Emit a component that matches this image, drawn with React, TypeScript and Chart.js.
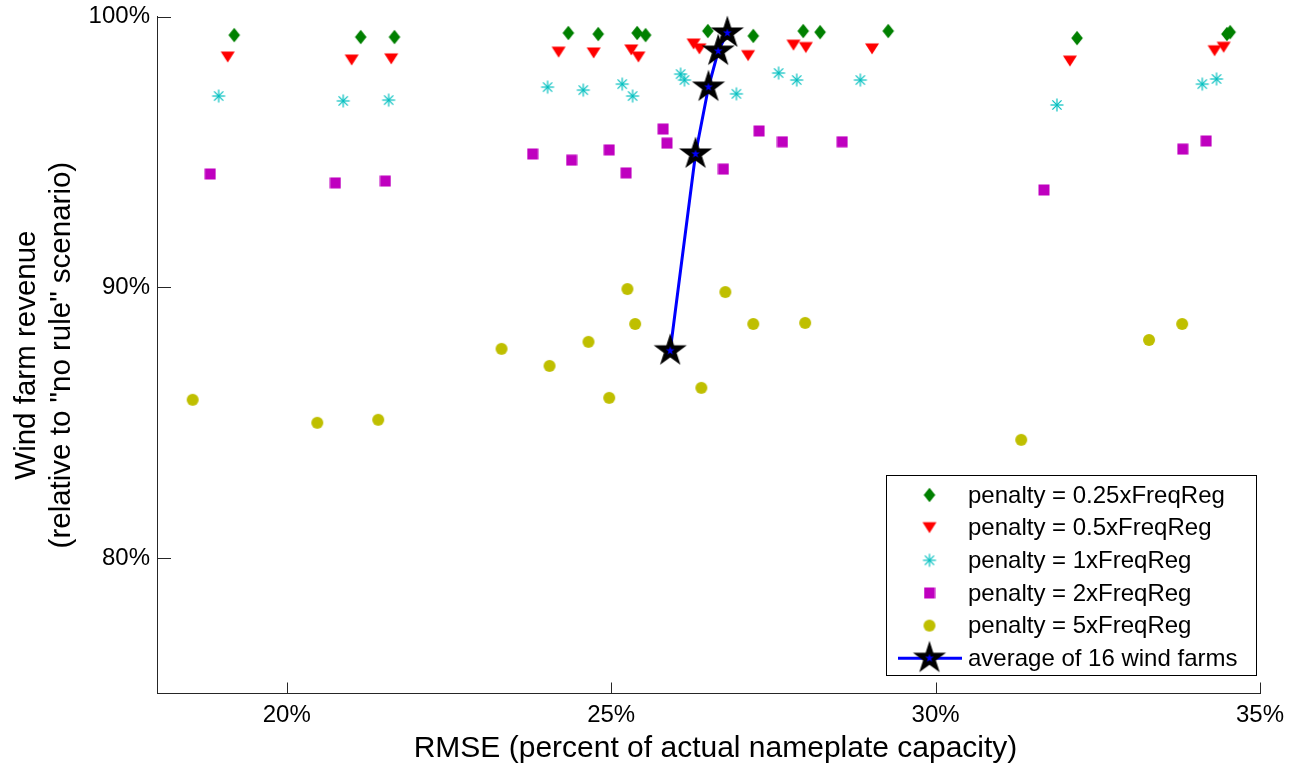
import React, { useEffect, useRef } from "react";
import { Chart, registerables } from "chart.js";

Chart.register(...registerables);

// ---- tick values ----
const xTickValues = [20, 25, 30, 35];
const yTickValues = [80, 90, 100];

// ---- series: RMSE (%) and revenue (%) ----
const rmse025 = [19.19, 21.14, 21.66, 24.34, 24.8, 25.4, 25.53, 26.49, 26.78, 27.19, 27.96, 28.22, 29.27, 32.18, 34.49, 34.54];
const rev025 = [99.32, 99.25, 99.25, 99.4, 99.36, 99.4, 99.32, 99.47, 99.43, 99.29, 99.47, 99.43, 99.47, 99.21, 99.36, 99.43];

const rmse05 = [19.09, 21.0, 21.61, 24.19, 24.73, 25.31, 25.42, 26.27, 26.36, 27.11, 27.81, 28.0, 29.02, 32.07, 34.3, 34.44];
const rev05 = [98.51, 98.4, 98.44, 98.69, 98.66, 98.77, 98.51, 98.99, 98.81, 98.56, 98.95, 98.86, 98.81, 98.36, 98.74, 98.87];

const rmse1 = [18.95, 20.87, 21.57, 24.02, 24.57, 25.17, 25.33, 26.07, 26.13, 26.93, 27.58, 27.86, 28.84, 31.87, 34.11, 34.33];
const rev1 = [97.07, 96.89, 96.92, 97.4, 97.29, 97.51, 97.07, 97.88, 97.66, 97.15, 97.92, 97.66, 97.66, 96.74, 97.51, 97.7];

const rmse2 = [18.82, 20.75, 21.52, 23.79, 24.39, 24.97, 25.23, 25.8, 25.86, 26.73, 27.28, 27.64, 28.56, 31.67, 33.81, 34.17];
const rev2 = [94.19, 93.86, 93.93, 94.93, 94.7, 95.08, 94.23, 95.85, 95.33, 94.37, 95.78, 95.38, 95.38, 93.6, 95.11, 95.41];

const rmse5 = [18.55, 20.47, 21.41, 23.31, 24.05, 24.65, 24.97, 25.25, 25.37, 26.39, 26.76, 27.19, 27.99, 31.32, 33.29, 33.8];
const rev5 = [85.85, 85.0, 85.11, 87.73, 87.1, 87.99, 85.92, 89.94, 88.65, 86.29, 89.83, 88.65, 88.69, 84.37, 88.06, 88.65];

const rmseAvg = [25.91, 26.3, 26.5, 26.65, 26.79];
const revAvg = [87.66, 94.93, 97.4, 98.73, 99.4];

const legendLabels = [
  "penalty = 0.25xFreqReg",
  "penalty = 0.5xFreqReg",
  "penalty = 1xFreqReg",
  "penalty = 2xFreqReg",
  "penalty = 5xFreqReg",
  "average of 16 wind farms",
];

const xTitle = "RMSE (percent of actual nameplate capacity)";
const yTitle = ["Wind farm revenue", '(relative to "no rule" scenario)'];

const FONT = "'Liberation Sans', Arial, sans-serif";
const AXIS_COLOR = "#262626";
const GREEN = "#008000";
const RED = "#FF0000";
const CYAN = "#00BFBF";
const MAGENTA = "#BF00BF";
const YELLOW = "#BFBF00";
const BLUE = "#0000FF";

function mk(w: number, h: number, draw: (g: CanvasRenderingContext2D) => void) {
  const c = document.createElement("canvas");
  c.width = w;
  c.height = h;
  const g = c.getContext("2d")!;
  draw(g);
  return c;
}

function makeMarkers() {
  const diamond = mk(14, 16, (g) => {
    g.beginPath();
    g.moveTo(7, 0.8);
    g.lineTo(12.8, 8);
    g.lineTo(7, 15.2);
    g.lineTo(1.2, 8);
    g.closePath();
    g.fillStyle = GREEN;
    g.fill();
  });
  const tri = mk(16, 14, (g) => {
    g.beginPath();
    g.moveTo(1, 1.5);
    g.lineTo(15, 1.5);
    g.lineTo(8, 12.5);
    g.closePath();
    g.fillStyle = RED;
    g.fill();
  });
  const aster = mk(16, 16, (g) => {
    g.strokeStyle = CYAN;
    g.lineWidth = 1.2;
    const r = 6.5;
    for (let i = 0; i < 4; i++) {
      const a = (i * Math.PI) / 4;
      g.beginPath();
      g.moveTo(8 - r * Math.cos(a), 8 - r * Math.sin(a));
      g.lineTo(8 + r * Math.cos(a), 8 + r * Math.sin(a));
      g.stroke();
    }
  });
  const square = mk(12, 12, (g) => {
    g.fillStyle = MAGENTA;
    g.fillRect(0.5, 0.5, 11, 11);
  });
  const circle = mk(14, 14, (g) => {
    g.beginPath();
    g.arc(7, 7, 6, 0, Math.PI * 2);
    g.fillStyle = YELLOW;
    g.fill();
  });
  const star = mk(36, 36, (g) => {
    const cx = 18,
      cy = 18;
    const path = (Ro: number) => {
      const Ri = Ro * 0.382;
      g.beginPath();
      for (let i = 0; i < 10; i++) {
        const rr = i % 2 === 0 ? Ro : Ri;
        const a = -Math.PI / 2 + (i * Math.PI) / 5;
        g.lineTo(cx + rr * Math.cos(a), cy + rr * Math.sin(a));
      }
      g.closePath();
    };
    path(15);
    g.fillStyle = "#000";
    g.fill();
    g.lineWidth = 1.5;
    g.strokeStyle = "#000";
    g.stroke();
    path(4.5);
    g.fillStyle = BLUE;
    g.fill();
  });
  return { diamond, tri, aster, square, circle, star };
}

function pts(xs: number[], ys: number[]) {
  return xs.map((x, i) => ({ x, y: ys[i] }));
}

export default function App() {
  const ref = useRef<HTMLCanvasElement | null>(null);

  useEffect(() => {
    document.body.style.margin = "0";
    const canvas = ref.current;
    if (!canvas) return;
    const m = makeMarkers();
    const legendMarkers = [m.diamond, m.tri, m.aster, m.square, m.circle, m.star];

    const inwardTicks = {
      id: "inwardTicks",
      afterDraw(chart: any) {
        const { ctx, chartArea, scales } = chart;
        ctx.save();
        ctx.strokeStyle = AXIS_COLOR;
        ctx.lineWidth = 1;
        ctx.beginPath();
        scales.x.ticks.forEach((t: any) => {
          const px = Math.round(scales.x.getPixelForValue(t.value)) + 0.5;
          ctx.moveTo(px, chartArea.bottom);
          ctx.lineTo(px, chartArea.bottom - 11);
        });
        scales.y.ticks.forEach((t: any) => {
          const py = Math.round(scales.y.getPixelForValue(t.value)) + 0.5;
          ctx.moveTo(chartArea.left, py);
          ctx.lineTo(chartArea.left + 14, py);
        });
        ctx.stroke();
        // x axis title
        ctx.fillStyle = "#000";
        ctx.font = `30px ${FONT}`;
        ctx.textAlign = "center";
        ctx.textBaseline = "alphabetic";
        ctx.fillText(xTitle, 715.5, 757);
        ctx.restore();
      },
    };

    const legendPlugin = {
      id: "customLegend",
      afterDraw(chart: any) {
        const ctx = chart.ctx as CanvasRenderingContext2D;
        const bx = 886,
          by = 475,
          bw = 371,
          bh = 201;
        ctx.save();
        ctx.fillStyle = "#fff";
        ctx.fillRect(bx, by, bw, bh);
        ctx.strokeStyle = "#000";
        ctx.lineWidth = 1;
        ctx.strokeRect(bx + 0.5, by + 0.5, bw - 1, bh - 1);
        const mx = 929.5;
        const tx = 968;
        ctx.font = `24px ${FONT}`;
        ctx.textBaseline = "middle";
        ctx.textAlign = "left";
        ctx.fillStyle = "#000";
        legendLabels.forEach((lab, i) => {
          const ry = 495 + i * 32.65;
          if (i === legendLabels.length - 1) {
            ctx.strokeStyle = BLUE;
            ctx.lineWidth = 3;
            ctx.beginPath();
            ctx.moveTo(898, ry);
            ctx.lineTo(962, ry);
            ctx.stroke();
          }
          const mk = legendMarkers[i];
          ctx.drawImage(mk, mx - mk.width / 2, ry - mk.height / 2);
          ctx.fillStyle = "#000";
          ctx.fillText(lab, tx, ry + 1);
        });
        ctx.restore();
      },
    };

    const chart = new Chart(canvas, {
      type: "scatter",
      data: {
        datasets: [
          { label: legendLabels[0], data: pts(rmse025, rev025), pointStyle: m.diamond as any, pointRadius: 6, order: 5, clip: false as any },
          { label: legendLabels[1], data: pts(rmse05, rev05), pointStyle: m.tri as any, pointRadius: 6, order: 4, clip: false as any },
          { label: legendLabels[2], data: pts(rmse1, rev1), pointStyle: m.aster as any, pointRadius: 6, order: 3, clip: false as any },
          { label: legendLabels[3], data: pts(rmse2, rev2), pointStyle: m.square as any, pointRadius: 6, order: 2, clip: false as any },
          { label: legendLabels[4], data: pts(rmse5, rev5), pointStyle: m.circle as any, pointRadius: 6, order: 1, clip: false as any },
          {
            label: legendLabels[5],
            data: pts(rmseAvg, revAvg),
            pointStyle: m.star as any,
            pointRadius: 10,
            showLine: true,
            borderColor: BLUE,
            borderWidth: 3,
            order: 0,
            clip: false as any,
          },
        ],
      },
      options: {
        animation: false,
        responsive: false,
        devicePixelRatio: 1,
        layout: { padding: { top: 16.7, right: 36, left: 0, bottom: 0 } },
        plugins: { legend: { display: false }, tooltip: { enabled: false } },
        events: [],
        scales: {
          x: {
            type: "linear",
            min: 18,
            max: 35,
            afterBuildTicks: (s: any) => {
              s.ticks = xTickValues.map((v) => ({ value: v }));
            },
            afterFit: (s: any) => {
              s.height = 71.5;
              s.paddingLeft = 0;
              s.paddingRight = 0;
            },
            grid: { display: false, drawTicks: false },
            border: { display: true, color: AXIS_COLOR, width: 1 },
            ticks: {
              padding: 7,
              color: "#000",
              font: { family: FONT, size: 24 },
              maxRotation: 0,
              callback: (v: any) => `${v}%`,
            },
            title: { display: false },
          },
          y: {
            type: "linear",
            min: 75,
            max: 100,
            afterBuildTicks: (s: any) => {
              s.ticks = yTickValues.map((v) => ({ value: v }));
            },
            afterFit: (s: any) => {
              s.width = 157;
              s.paddingTop = 0;
              s.paddingBottom = 0;
            },
            grid: { display: false, drawTicks: false },
            border: { display: true, color: AXIS_COLOR, width: 1 },
            ticks: {
              padding: 7,
              color: "#000",
              font: { family: FONT, size: 24 },
              callback: (v: any) => `${v}%`,
            },
            title: {
              display: true,
              text: yTitle,
              color: "#000",
              font: { family: FONT, size: 29.5, lineHeight: 1.17 },
              padding: { top: 10, bottom: 0 },
            },
          },
        },
      },
      plugins: [inwardTicks, legendPlugin],
    } as any);

    return () => {
      chart.destroy();
    };
  }, []);

  return (
    <div style={{ position: "absolute", left: 0, top: 0, width: 1296, height: 765, background: "#fff" }}>
      <canvas ref={ref} width={1296} height={765} style={{ display: "block" }} />
    </div>
  );
}
